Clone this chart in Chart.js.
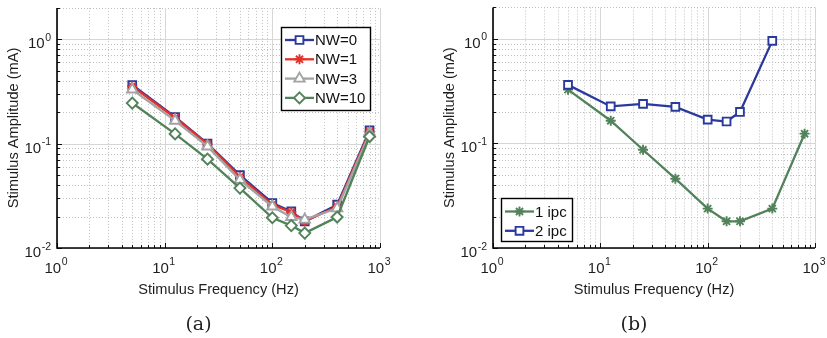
<!DOCTYPE html>
<html><head><meta charset="utf-8">
<script src="https://cdn.jsdelivr.net/npm/chart.js@4/dist/chart.umd.min.js"></script>
<style>
html,body{margin:0;padding:0;background:#fff;}
#wrap{position:relative;width:827px;height:338px;overflow:hidden;background:#fff;}
canvas{position:absolute;left:0;top:0;}
</style></head><body>
<div id="wrap"><canvas id="ca" width="827" height="338"></canvas><canvas id="cb" width="827" height="338"></canvas></div>
<script>
// ---- data ----
const freqs = [5, 12.5, 25, 50, 100, 150, 200, 400, 800];
const freqs2ipc = [5, 12.5, 25, 50, 100, 150, 200, 400];
const nw0 = [0.365, 0.180, 0.100, 0.050, 0.027, 0.0224, 0.0180, 0.026, 0.134];
const nw1 = [0.355, 0.177, 0.099, 0.048, 0.026, 0.0220, 0.0180, 0.025, 0.130];
const nw3 = [0.330, 0.166, 0.094, 0.045, 0.025, 0.0198, 0.0187, 0.024, 0.125];
const nw10 = [0.245, 0.124, 0.071, 0.0375, 0.0195, 0.0164, 0.0139, 0.0198, 0.117];
const ipc1 = [0.327, 0.165, 0.087, 0.046, 0.0238, 0.0180, 0.0180, 0.0238, 0.124];
const ipc2 = [0.363, 0.226, 0.239, 0.224, 0.169, 0.162, 0.200, 0.957];
const xTickExps = [0, 1, 2, 3];
const yTickExps = [-2, -1, 0];
const xLabel = 'Stimulus Frequency (Hz)';
const yLabel = 'Stimulus Amplitude (mA)';

const C = {blue:'#2a3a9c', red:'#e4302a', gray:'#a3a3a3', green:'#52825a'};
const SANS = '"Liberation Sans", Arial, sans-serif';

function pts(xs, ys){ return xs.map((x,i)=>({x:x, y:ys[i]})); }
function ds(label, xs, ys, color, style, r, order){
  return {label, data: pts(xs, ys), borderColor: color, backgroundColor: '#fff',
    borderWidth: 2.3, pointStyle: style, pointRadius: r, pointBorderWidth: 1.9,
    pointBackgroundColor: '#fff', pointBorderColor: color, tension: 0, order};
}

function drawMarker(ctx, style, x, y, r, color){
  ctx.save();
  ctx.strokeStyle = color; ctx.fillStyle = '#fff'; ctx.lineWidth = 1.9;
  ctx.beginPath();
  if (style === 'rect') { const s = Math.SQRT1_2*r; ctx.rect(x-s, y-s, 2*s, 2*s); ctx.fill(); ctx.stroke(); }
  else if (style === 'rectRot') { ctx.moveTo(x, y-r); ctx.lineTo(x+r, y); ctx.lineTo(x, y+r); ctx.lineTo(x-r, y); ctx.closePath(); ctx.fill(); ctx.stroke(); }
  else if (style === 'triangle') { for (let k=0;k<3;k++){ const a = k*2*Math.PI/3; const px = x+Math.sin(a)*r, py = y-Math.cos(a)*r; k?ctx.lineTo(px,py):ctx.moveTo(px,py);} ctx.closePath(); ctx.fill(); ctx.stroke(); }
  else if (style === 'star') { for (let k=0;k<4;k++){ const a = k*Math.PI/4; ctx.moveTo(x-Math.cos(a)*r, y-Math.sin(a)*r); ctx.lineTo(x+Math.cos(a)*r, y+Math.sin(a)*r);} ctx.stroke(); }
  ctx.restore();
}

function drawPow(ctx, exp, x, baseY, align){
  const base = '10', e = String(exp);
  ctx.font = '15px ' + SANS; const wb = ctx.measureText(base).width;
  ctx.font = '10.5px ' + SANS; const we = ctx.measureText(e).width;
  const w = wb + we + 0.5;
  let x0 = align === 'right' ? x - w : x - w/2;
  ctx.textAlign = 'left'; ctx.textBaseline = 'alphabetic'; ctx.fillStyle = '#1e1e1e';
  ctx.font = '15px ' + SANS; ctx.fillText(base, x0, baseY);
  ctx.font = '10.5px ' + SANS; ctx.fillText(e, x0 + wb + 0.5, baseY - 7.5);
}

const panelPlugin = {
  id: 'panel',
  beforeDatasetsDraw(chart, args, o){
    const {ctx, chartArea: a, scales: {x, y}} = chart;
    ctx.save();
    ctx.lineWidth = 1;
    ctx.strokeStyle = '#c0c0c0'; ctx.setLineDash([1, 2]);
    for (let e = 0; e < 3; e++) for (let m = 2; m <= 9; m++) {
      const px = Math.round(x.getPixelForValue(m*Math.pow(10,e))) + 0.5;
      ctx.beginPath(); ctx.moveTo(px, a.top); ctx.lineTo(px, a.bottom); ctx.stroke();
    }
    for (let e = -2; e <= 0; e++) for (let m = 2; m <= 9; m++) {
      const v = m*Math.pow(10,e); if (v > y.max + 1e-9) continue;
      const py = Math.round(y.getPixelForValue(v)) + 0.5;
      ctx.beginPath(); ctx.moveTo(a.left, py); ctx.lineTo(a.right, py); ctx.stroke();
    }
    ctx.setLineDash([]); ctx.strokeStyle = '#d6d6d6';
    xTickExps.forEach(e => { const px = Math.round(x.getPixelForValue(Math.pow(10,e))) + 0.5;
      ctx.beginPath(); ctx.moveTo(px, a.top); ctx.lineTo(px, a.bottom); ctx.stroke(); });
    yTickExps.forEach(e => { const py = Math.round(y.getPixelForValue(Math.pow(10,e))) + 0.5;
      ctx.beginPath(); ctx.moveTo(a.left, py); ctx.lineTo(a.right, py); ctx.stroke(); });
    ctx.restore();
  },
  afterDatasetsDraw(chart, args, o){
    const {ctx, chartArea: a, scales: {x, y}} = chart;
    ctx.save();
    ctx.strokeStyle = '#111'; ctx.lineWidth = 1;
    for (let e = 0; e <= 3; e++) for (let m = 1; m <= 9; m++) {
      const v = m*Math.pow(10,e); if (v > 1000) continue;
      const px = Math.round(x.getPixelForValue(v)) + 0.5; const len = m === 1 ? 5 : 3;
      ctx.beginPath(); ctx.moveTo(px, a.bottom); ctx.lineTo(px, a.bottom - len); ctx.stroke();
    }
    for (let e = -2; e <= 0; e++) for (let m = 1; m <= 9; m++) {
      const v = m*Math.pow(10,e); if (v > y.max + 1e-9) continue;
      const py = Math.round(y.getPixelForValue(v)) + 0.5; const len = m === 1 ? 5 : 3;
      ctx.beginPath(); ctx.moveTo(a.left, py); ctx.lineTo(a.left + len, py); ctx.stroke();
    }
    ctx.lineWidth = 1.6; ctx.strokeStyle = '#000';
    ctx.beginPath(); ctx.moveTo(a.left, a.top); ctx.lineTo(a.left, a.bottom); ctx.lineTo(a.right, a.bottom); ctx.stroke();
    xTickExps.forEach(e => drawPow(ctx, e, x.getPixelForValue(Math.pow(10,e)) - 1, a.bottom + 24.5, 'center'));
    yTickExps.forEach(e => drawPow(ctx, e, a.left - 6, y.getPixelForValue(Math.pow(10,e)) + 9, 'right'));
    ctx.fillStyle = '#1e1e1e'; ctx.font = '14.6px ' + SANS; ctx.textAlign = 'center'; ctx.textBaseline = 'alphabetic';
    ctx.fillText(xLabel, (a.left + a.right)/2, a.bottom + 45.5);
    ctx.save(); ctx.translate(a.left - 39.5, (a.top + a.bottom)/2); ctx.rotate(-Math.PI/2);
    ctx.fillText(yLabel, 0, 0); ctx.restore();
    ctx.font = '19px "DejaVu Serif", serif'; ctx.fillStyle = '#222';
    ctx.fillText(o.letter, (a.left + a.right)/2 - 20, a.bottom + 82);
    const L = o.legend;
    ctx.fillStyle = '#fff'; ctx.fillRect(L.x, L.y, L.w, L.h);
    ctx.strokeStyle = '#000'; ctx.lineWidth = 1.4; ctx.strokeRect(L.x + 0.5, L.y + 0.5, L.w, L.h);
    chart.data.datasets.forEach((d, i) => {
      const ds = chart.data.datasets[L.order[i]];
      const yy = L.y + L.first + i*L.step;
      ctx.strokeStyle = ds.borderColor; ctx.lineWidth = 2.3;
      ctx.beginPath(); ctx.moveTo(L.x + 4, yy); ctx.lineTo(L.x + 33, yy); ctx.stroke();
      drawMarker(ctx, ds.pointStyle, L.x + 18.5, yy, ds.pointRadius, ds.borderColor);
      ctx.fillStyle = '#111'; ctx.font = '15px ' + SANS; ctx.textAlign = 'left'; ctx.textBaseline = 'middle';
      ctx.fillText(ds.label, L.x + 34, yy + 1);
    });
    ctx.restore();
  }
};

function makeChart(id, datasets, pad, letter, legend){
  return new Chart(document.getElementById(id), {
    type: 'line',
    data: {datasets},
    options: {
      responsive: false, animation: false, devicePixelRatio: 1,
      layout: {padding: pad},
      scales: {
        x: {type: 'logarithmic', min: 1, max: 1000, display: false},
        y: {type: 'logarithmic', min: 0.01, max: 2, display: false}
      },
      plugins: {legend: {display: false}, tooltip: {enabled: false}, panel: {letter, legend}}
    },
    plugins: [panelPlugin]
  });
}

makeChart('ca', [
  ds('NW=0', freqs, nw0, C.blue, 'rect', 5.5, 4),
  ds('NW=1', freqs, nw1, C.red, 'star', 5, 3),
  ds('NW=3', freqs, nw3, C.gray, 'triangle', 6, 2),
  ds('NW=10', freqs, nw10, C.green, 'rectRot', 5.5, 1)
], {left: 57, right: 447, top: 7, bottom: 90}, '(a)',
  {x: 281, y: 27, w: 89, h: 83, first: 13, step: 19.3, order: [0,1,2,3]});

makeChart('cb', [
  ds('1 ipc', freqs, ipc1, C.green, 'star', 5, 2),
  ds('2 ipc', freqs2ipc, ipc2, C.blue, 'rect', 5.5, 1)
], {left: 493, right: 12, top: 7, bottom: 90}, '(b)',
  {x: 501, y: 198, w: 71, h: 43, first: 13.5, step: 19.3, order: [0,1]});
</script>
</body></html>
